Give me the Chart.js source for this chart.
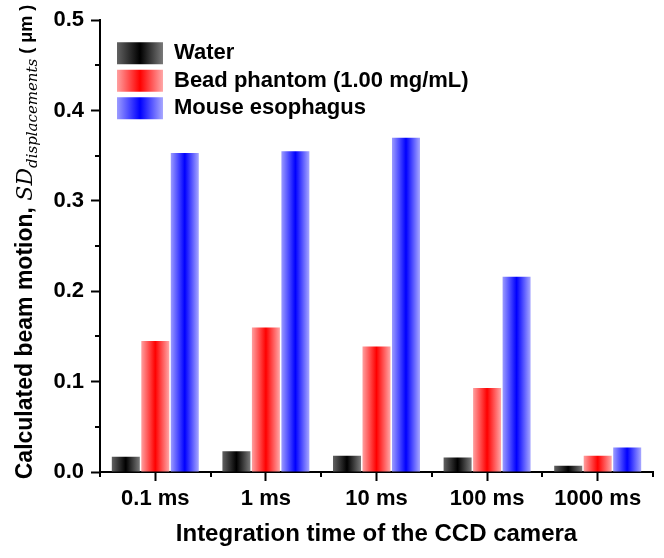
<!DOCTYPE html>
<html>
<head>
<meta charset="utf-8">
<script src="https://cdn.jsdelivr.net/npm/chart.js@4.4.1/dist/chart.umd.min.js"></script>
<style>
  html, body { margin: 0; padding: 0; background: #fff; }
  #wrap { width: 664px; height: 558px; }
</style>
</head>
<body>
<div id="wrap"><canvas id="chart"></canvas></div>
<script>
// values
const categories = ['0.1 ms', '1 ms', '10 ms', '100 ms', '1000 ms'];
const water = [0.017, 0.023, 0.018, 0.016, 0.007];
const beadPhantom = [0.145, 0.160, 0.139, 0.093, 0.018];
const mouseEsophagus = [0.353, 0.355, 0.370, 0.216, 0.027];
const yTicks = [0.0, 0.1, 0.2, 0.3, 0.4, 0.5];

// edge / centre colours of the shaded bars
const shades = [
  ['#626262', '#000000', '#7a7a7a'],
  ['#ffa0a0', '#ff0000', '#ffa8a8'],
  ['#9c9cff', '#0000ff', '#a8a8ff']
];

const sans = '"Liberation Sans", Arial, sans-serif';
const LEGEND_BOX = 46;

function shade(ctx, x0, w, i) {
  const g = ctx.createLinearGradient(x0, 0, x0 + w, 0);
  g.addColorStop(0, shades[i][0]);
  g.addColorStop(0.5, shades[i][1]);
  g.addColorStop(1, shades[i][2]);
  return g;
}

// bars get their horizontal shading once positions are known; legend is nudged into place
const shadingPlugin = {
  id: 'shading',
  afterLayout(chart) {
    const lg = chart.legend;
    lg.left = chart.chartArea.left + 11.5;
    lg.top = chart.chartArea.top + 16.5;
  },
  afterDatasetsUpdate(chart) {
    chart.data.datasets.forEach((ds, i) => {
      chart.getDatasetMeta(i).data.forEach(el => {
        el.options.backgroundColor = shade(chart.ctx, el.x - el.width / 2, el.width, i);
      });
    });
  }
};

// short minor ticks between the labelled ones
const minorTicks = {
  id: 'minorTicks',
  afterDraw(chart) {
    const {ctx, scales: {x, y}, chartArea} = chart;
    ctx.save();
    ctx.strokeStyle = '#000';
    ctx.lineWidth = 2;
    ctx.beginPath();
    for (let i = 0; i < yTicks.length - 1; i++) {
      const py = Math.round(y.getPixelForValue((yTicks[i] + yTicks[i + 1]) / 2));
      ctx.moveTo(chartArea.left - 5, py);
      ctx.lineTo(chartArea.left, py);
    }
    const step = x.getPixelForValue(1) - x.getPixelForValue(0);
    for (let i = 0; i <= categories.length; i++) {
      const px = Math.round(x.getPixelForValue(i) - step / 2);
      ctx.moveTo(px, chartArea.bottom);
      ctx.lineTo(px, chartArea.bottom + 5);
    }
    ctx.stroke();
    ctx.restore();
  }
};

// y title mixes bold sans with an italic subscripted symbol
const yTitleParts = [
  { text: 'Calculated beam motion, ', font: 'bold 23px ' + sans, dy: 0 },
  { text: 'SD', font: 'italic 22px "DejaVu Serif", serif', dy: 0 },
  { text: 'displacements', font: 'italic 15px "DejaVu Serif", serif', dy: 5 },
  { text: ' ( μm )', font: 'bold 18px ' + sans, dy: 0 }
];
const yTitle = {
  id: 'yTitle',
  afterDraw(chart) {
    const ctx = chart.ctx;
    ctx.save();
    ctx.fillStyle = '#000';
    ctx.textBaseline = 'alphabetic';
    ctx.textAlign = 'left';
    let total = 0;
    yTitleParts.forEach(p => { ctx.font = p.font; total += ctx.measureText(p.text).width; });
    ctx.translate(32, 242);
    ctx.rotate(-Math.PI / 2);
    let pos = -total / 2;
    yTitleParts.forEach(p => {
      ctx.font = p.font;
      ctx.fillText(p.text, pos, p.dy);
      pos += ctx.measureText(p.text).width;
    });
    ctx.restore();
  }
};

new Chart(document.getElementById('chart'), {
  type: 'bar',
  data: {
    labels: categories,
    datasets: [
      { label: 'Water', data: water, backgroundColor: () => '#000' },
      { label: 'Bead phantom (1.00 mg/mL)', data: beadPhantom, backgroundColor: () => '#f00' },
      { label: 'Mouse esophagus', data: mouseEsophagus, backgroundColor: () => '#00f' }
    ]
  },
  options: {
    responsive: true,
    maintainAspectRatio: false,
    animation: false,
    categoryPercentage: 0.8,
    barPercentage: 0.95,
    layout: { padding: { left: 0, top: 20, right: 11, bottom: 0 } },
    plugins: {
      tooltip: { enabled: false },
      legend: {
        position: 'chartArea',
        align: 'start',
        labels: {
          boxWidth: LEGEND_BOX,
          boxHeight: 22,
          padding: 5.5,
          color: '#000',
          font: { family: sans, size: 22, weight: 'bold' },
          generateLabels(chart) {
            const items = Chart.defaults.plugins.legend.labels.generateLabels(chart);
            const lg = chart.legend;
            if (lg && lg.left !== undefined) {
              const x0 = lg.left + lg.options.labels.padding;
              items.forEach((it, i) => {
                it.fillStyle = shade(chart.ctx, x0, LEGEND_BOX, i);
                it.lineWidth = 0;
              });
            }
            return items;
          }
        }
      }
    },
    scales: {
      x: {
        z: 1,
        offset: true,
        afterFit(scale) { scale.height = 86; },
        border: { display: true, color: '#000', width: 2 },
        grid: { display: true, offset: false, drawOnChartArea: false, drawTicks: true, tickLength: 9, tickWidth: 2, tickColor: '#000' },
        ticks: { color: '#000', padding: 5, font: { family: sans, size: 22, weight: 'bold' } },
        title: {
          display: true,
          text: 'Integration time of the CCD camera',
          color: '#000',
          padding: { top: 0, bottom: 9 },
          font: { family: sans, size: 24, weight: 'bold' }
        }
      },
      y: {
        z: 1,
        min: 0,
        max: 0.5,
        afterFit(scale) { scale.width = 100; },
        afterBuildTicks(scale) { scale.ticks = yTicks.map(v => ({ value: v })); },
        border: { display: true, color: '#000', width: 2 },
        grid: { display: true, drawOnChartArea: false, drawTicks: true, tickLength: 9, tickWidth: 2, tickColor: '#000' },
        ticks: {
          color: '#000',
          padding: 7,
          font: { family: sans, size: 22, weight: 'bold' },
          callback: v => Number(v).toFixed(1)
        }
      }
    }
  },
  plugins: [shadingPlugin, minorTicks, yTitle]
});
</script>
</body>
</html>
